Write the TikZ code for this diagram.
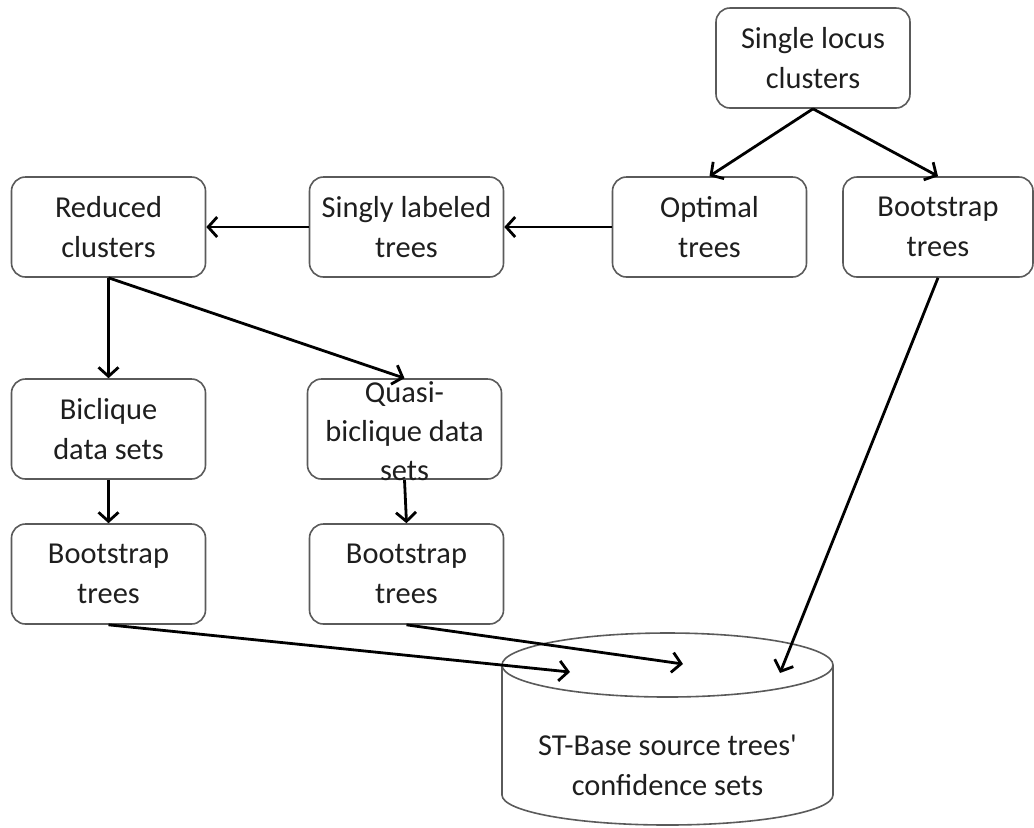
\documentclass[tikz,border=0pt]{standalone}
\usepackage{fontspec}
\setmainfont{Carlito}
\usepackage{xcolor}
\usetikzlibrary{arrows.meta}

\definecolor{boxgray}{HTML}{5A5A5A}
\definecolor{textgray}{HTML}{1E1E1E}

\begin{document}
\begin{tikzpicture}[x=0.5pt, y=-0.5pt,
	box/.style={draw=boxgray, line width=0.8pt, rounded corners=7pt, minimum width=97pt, minimum height=50pt, align=center, text=textgray, font=\fontsize{15.2}{20}\selectfont},
	flow/.style={line width=1.4pt, -{Straight Barb[length=4.5pt, width=10pt]}}]
		\useasboundingbox (0,0) rectangle (1034,827);
		% Nodes
		\node[box] (single) at (813,58) {Single locus\\clusters};
		\node[box] (optimal) at (709.5,227) {Optimal\\trees};
		\node[box, minimum width=95pt] (bootR) at (938,227) {Bootstrap\\trees};
		\node[box] (singly) at (406.5,227) {Singly labeled\\trees};
		\node[box] (reduced) at (108.5,227) {Reduced\\clusters};
		\node[box] (biclique) at (108.5,429) {Biclique\\data sets};
		\node[box] (quasi) at (404.5,429) {};
		\node[align=center, text=textgray, font=\fontsize{15.2}{19.5}\selectfont] (quasitext) at (404.5,431) {Quasi-\\biclique data\\sets};
		\node[box] (bootL) at (108.5,574) {Bootstrap\\trees};
		\node[box] (bootM) at (406.5,574) {Bootstrap\\trees};
		
		% Database
		\draw[draw=boxgray, line width=0.8pt] (502,665) -- (502,795) arc[start angle=180, end angle=360, x radius=82.75pt, y radius=15pt] -- (833,665);
		\draw[draw=boxgray, line width=0.8pt] (667.5,665) ellipse [x radius=82.75pt, y radius=16pt];
		\node[align=center, text=textgray, font=\fontsize{15.2}{20}\selectfont] (db) at (667.5,765) {ST-Base source trees\textquotesingle\\confidence sets};
		\coordinate (dbL) at (570,672);
		\coordinate (dbM) at (683,664);
		\coordinate (dbR) at (780,673);
		
		% Arrows
		\draw[flow] (single.south) -- (optimal.north);
		\draw[flow] (single.south) -- (bootR.north);
		\draw[flow] (optimal.west) -- (singly.east);
		\draw[flow] (singly.west) -- (reduced.east);
		\draw[flow] (reduced.south) -- (biclique.north);
		\draw[flow] (reduced.south) -- (quasi.north);
		\draw[flow] (biclique.south) -- (bootL.north);
		\draw[flow] (quasi.south) -- (bootM.north);
		\draw[flow] (bootL.south) -- (dbL);
		\draw[flow] (bootM.south) -- (dbM);
		\draw[flow] (bootR.south) -- (dbR);
		
	\end{tikzpicture}
\end{document}
